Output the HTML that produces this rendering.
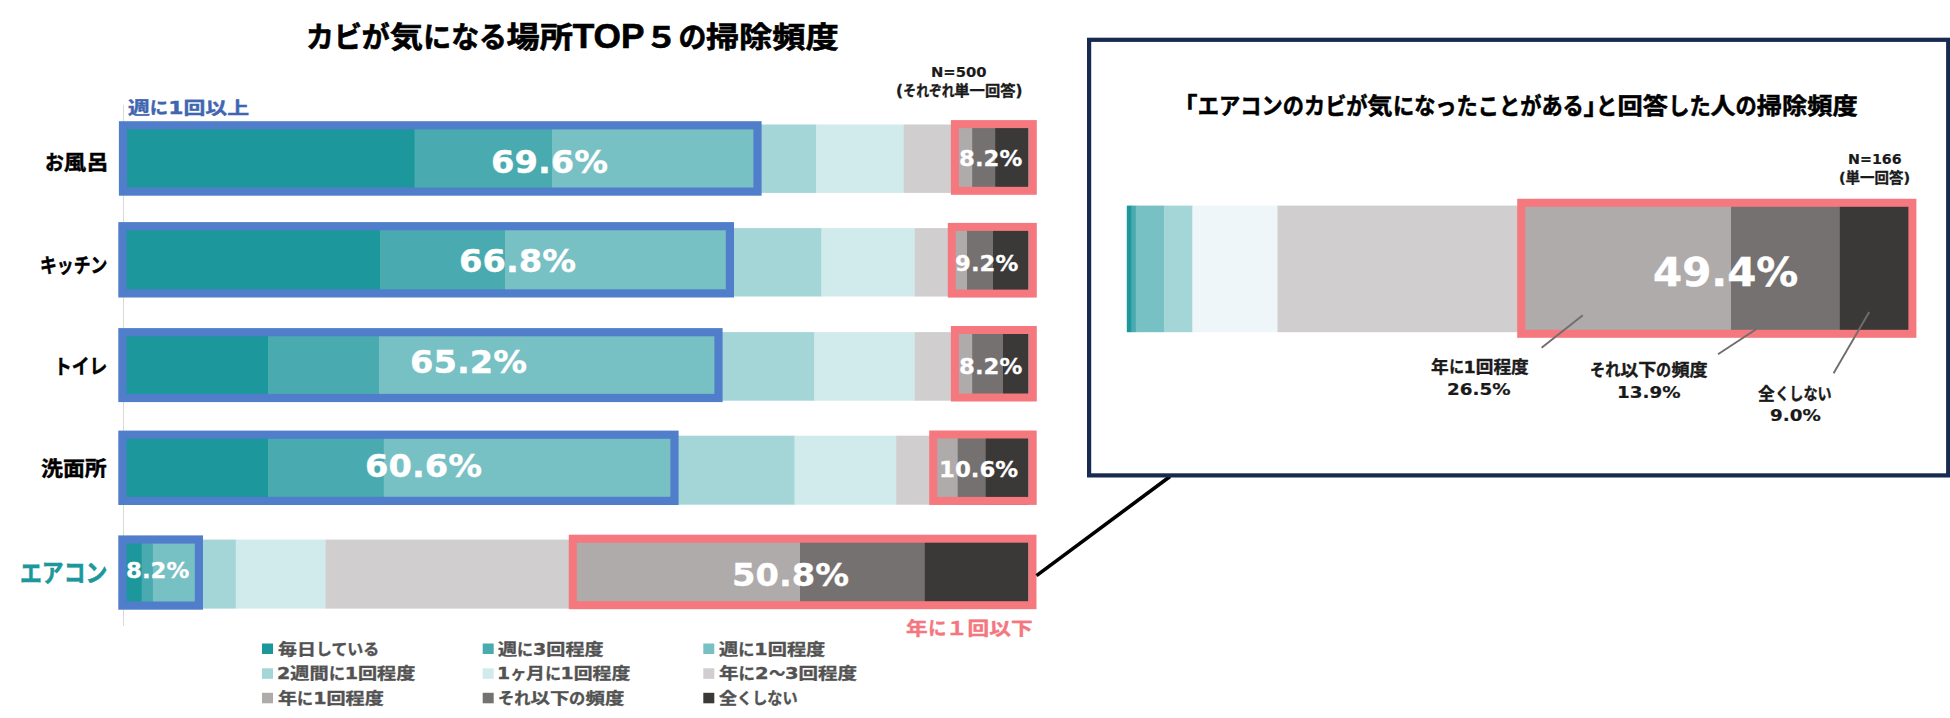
<!DOCTYPE html>
<html lang="ja"><head><meta charset="utf-8"><title>カビが気になる場所TOP５の掃除頻度</title>
<style>
html,body{margin:0;padding:0;background:#fff;}
body{width:1950px;height:718px;position:relative;overflow:hidden;font-family:"DejaVu Sans","Liberation Sans","Noto Sans CJK JP",sans-serif;font-weight:700;}
.r{position:absolute;box-sizing:content-box;}
.t{position:absolute;white-space:nowrap;line-height:1.3;font-weight:700;transform-origin:0 0;-webkit-text-stroke:0.022em currentColor;}
.d{-webkit-text-stroke:0.012em currentColor;}
.k{display:inline-block;transform-origin:0 50%;}
</style></head><body>
<svg class="r" style="left:0;top:0" width="1950" height="718" viewBox="0 0 1950 718"><rect x="123.00" y="105.00" width="1.00" height="521.00" fill="#d9d9d9"/><rect x="123.60" y="124.50" width="291.60" height="68.40" fill="#1c979c"/><rect x="414.50" y="124.50" width="138.20" height="68.40" fill="#49abb0"/><rect x="552.00" y="124.50" width="206.10" height="68.40" fill="#77c0c4"/><rect x="757.40" y="124.50" width="59.30" height="68.40" fill="#a4d5d7"/><rect x="816.00" y="124.50" width="88.50" height="68.40" fill="#d1eaeb"/><rect x="903.80" y="124.50" width="51.90" height="68.40" fill="#d0cece"/><rect x="955.00" y="124.50" width="17.90" height="68.40" fill="#afabab"/><rect x="972.20" y="124.50" width="23.70" height="68.40" fill="#767171"/><rect x="995.20" y="124.50" width="33.40" height="68.40" fill="#3b3838"/><rect x="123.60" y="228.10" width="257.10" height="68.40" fill="#1c979c"/><rect x="380.00" y="228.10" width="125.70" height="68.40" fill="#49abb0"/><rect x="505.00" y="228.10" width="225.70" height="68.40" fill="#77c0c4"/><rect x="730.00" y="228.10" width="91.90" height="68.40" fill="#a4d5d7"/><rect x="821.20" y="228.10" width="94.40" height="68.40" fill="#d1eaeb"/><rect x="914.90" y="228.10" width="37.80" height="68.40" fill="#d0cece"/><rect x="952.00" y="228.10" width="15.70" height="68.40" fill="#afabab"/><rect x="967.00" y="228.10" width="26.70" height="68.40" fill="#767171"/><rect x="993.00" y="228.10" width="35.60" height="68.40" fill="#3b3838"/><rect x="123.60" y="332.10" width="145.10" height="68.60" fill="#1c979c"/><rect x="268.00" y="332.10" width="111.70" height="68.60" fill="#49abb0"/><rect x="379.00" y="332.10" width="340.30" height="68.60" fill="#77c0c4"/><rect x="718.60" y="332.10" width="96.20" height="68.60" fill="#a4d5d7"/><rect x="814.10" y="332.10" width="101.50" height="68.60" fill="#d1eaeb"/><rect x="914.90" y="332.10" width="40.80" height="68.60" fill="#d0cece"/><rect x="955.00" y="332.10" width="17.90" height="68.60" fill="#afabab"/><rect x="972.20" y="332.10" width="31.50" height="68.60" fill="#767171"/><rect x="1003.00" y="332.10" width="25.60" height="68.60" fill="#3b3838"/><rect x="123.60" y="435.70" width="145.10" height="69.00" fill="#1c979c"/><rect x="268.00" y="435.70" width="116.50" height="69.00" fill="#49abb0"/><rect x="383.80" y="435.70" width="291.60" height="69.00" fill="#77c0c4"/><rect x="674.70" y="435.70" width="120.40" height="69.00" fill="#a4d5d7"/><rect x="794.40" y="435.70" width="102.60" height="69.00" fill="#d1eaeb"/><rect x="896.30" y="435.70" width="37.80" height="69.00" fill="#d0cece"/><rect x="933.40" y="435.70" width="25.00" height="69.00" fill="#afabab"/><rect x="957.70" y="435.70" width="28.70" height="69.00" fill="#767171"/><rect x="985.70" y="435.70" width="42.90" height="69.00" fill="#3b3838"/><rect x="123.60" y="539.60" width="18.80" height="69.00" fill="#1c979c"/><rect x="141.70" y="539.60" width="11.90" height="69.00" fill="#49abb0"/><rect x="152.90" y="539.60" width="46.70" height="69.00" fill="#77c0c4"/><rect x="198.90" y="539.60" width="37.60" height="69.00" fill="#a4d5d7"/><rect x="235.80" y="539.60" width="90.60" height="69.00" fill="#d1eaeb"/><rect x="325.70" y="539.60" width="248.00" height="69.00" fill="#d0cece"/><rect x="573.00" y="539.60" width="227.70" height="69.00" fill="#afabab"/><rect x="800.00" y="539.60" width="125.50" height="69.00" fill="#767171"/><rect x="924.80" y="539.60" width="103.80" height="69.00" fill="#3b3838"/><rect x="123.00" y="125.30" width="634.50" height="66.30" fill="none" stroke="#517ecb" stroke-width="8.2"/><rect x="122.40" y="226.20" width="607.50" height="67.20" fill="none" stroke="#517ecb" stroke-width="8.2"/><rect x="122.40" y="332.20" width="596.10" height="65.80" fill="none" stroke="#517ecb" stroke-width="8.2"/><rect x="122.40" y="434.70" width="552.10" height="66.20" fill="none" stroke="#517ecb" stroke-width="8.2"/><rect x="122.40" y="539.50" width="76.50" height="66.10" fill="none" stroke="#517ecb" stroke-width="8.2"/><rect x="954.90" y="124.10" width="77.90" height="66.70" fill="none" stroke="#f6787f" stroke-width="8"/><rect x="951.80" y="226.90" width="81.00" height="66.70" fill="none" stroke="#f6787f" stroke-width="8"/><rect x="954.90" y="330.00" width="77.90" height="67.50" fill="none" stroke="#f6787f" stroke-width="8"/><rect x="933.20" y="434.50" width="99.50" height="66.40" fill="none" stroke="#f6787f" stroke-width="8"/><rect x="572.80" y="538.70" width="459.70" height="66.50" fill="none" stroke="#f6787f" stroke-width="8"/></svg>
<div class="t" id="title" style="left:305.92px;top:13.54px;font-size:32px;color:#000;transform:scale(1.0376,0.9062);"><span class="k" style="transform:scaleX(0.84);margin-right:-0.480em">カビが</span>気<span class="k" style="transform:scaleX(0.84);margin-right:-0.480em">になる</span>場所<span class="k" style="font-family:'Liberation Sans',sans-serif;font-size:1.18em;transform:scaleX(0.9);margin-right:-0.206em">TOP</span><span style="font-feature-settings:normal;margin:0 0.0em 0 0.0em">５</span><span class="k" style="transform:scaleX(0.84);margin-right:-0.160em">の</span>掃除頻度</div>
<div class="t" id="wk" style="left:128.40px;top:96.25px;font-size:20px;color:#3f66b0;transform:scale(1.0936,0.8750);">週<span class="k" style="transform:scaleX(0.84);margin-right:-0.160em">に</span>1回以上</div>
<div class="t d" id="n500" style="left:931.47px;top:62.78px;font-size:14px;color:#1a1a1a;transform:scale(1.0560,1.0300);">N=500</div>
<div class="t" id="n500b" style="left:895.95px;top:82.14px;font-size:14.5px;color:#1a1a1a;transform:scale(1.0534,1.0310);">(<span class="k" style="transform:scaleX(0.84);margin-right:-0.640em">それぞれ</span>単一回答)</div>
<div class="t" id="l1" style="left:44.53px;top:150.91px;font-size:21px;color:#000;transform:scale(1.0667,0.9725);"><span class="k" style="transform:scaleX(0.84);margin-right:-0.160em">お</span>風呂</div>
<div class="t" id="l2" style="left:40.44px;top:253.61px;font-size:21px;color:#000;transform:scale(0.9551,0.9725);"><span class="k" style="transform:scaleX(0.84);margin-right:-0.640em">キッチン</span></div>
<div class="t" id="l3" style="left:54.36px;top:354.84px;font-size:21px;color:#000;transform:scale(1.0085,0.9725);"><span class="k" style="transform:scaleX(0.84);margin-right:-0.480em">トイレ</span></div>
<div class="t" id="l4" style="left:40.96px;top:456.94px;font-size:21px;color:#000;transform:scale(1.0419,0.9725);">洗面所</div>
<div class="t" id="l5" style="left:20.32px;top:558.49px;font-size:24px;color:#1c979c;transform:scale(1.0848,1.0286);"><span class="k" style="transform:scaleX(0.84);margin-right:-0.640em">エアコン</span></div>
<div class="t d" id="p1" style="left:491.28px;top:143.48px;font-size:33px;color:#fff;transform:scale(1.0219,0.9497);">69.6%</div>
<div class="t d" id="p2" style="left:458.53px;top:241.93px;font-size:33px;color:#fff;transform:scale(1.0219,0.9497);">66.8%</div>
<div class="t d" id="p3" style="left:410.43px;top:343.38px;font-size:33px;color:#fff;transform:scale(1.0219,0.9497);">65.2%</div>
<div class="t d" id="p4" style="left:364.73px;top:446.68px;font-size:33px;color:#fff;transform:scale(1.0219,0.9497);">60.6%</div>
<div class="t d" id="p5" style="left:731.68px;top:555.68px;font-size:33px;color:#fff;transform:scale(1.0219,0.9497);">50.8%</div>
<div class="t d" id="q1" style="left:959.14px;top:144.67px;font-size:22.5px;color:#fff;transform:scale(1.0147,0.9576);">8.2%</div>
<div class="t d" id="q2" style="left:955.39px;top:249.52px;font-size:22.5px;color:#fff;transform:scale(1.0147,0.9576);">9.2%</div>
<div class="t d" id="q3" style="left:958.69px;top:352.57px;font-size:22.5px;color:#fff;transform:scale(1.0147,0.9576);">8.2%</div>
<div class="t d" id="q4" style="left:938.61px;top:455.62px;font-size:22.5px;color:#fff;transform:scale(1.0147,0.9576);">10.6%</div>
<div class="t d" id="q5" style="left:125.79px;top:557.37px;font-size:22.5px;color:#fff;transform:scale(1.0147,0.9576);">8.2%</div>
<div class="t" id="yr" style="left:906.00px;top:618.24px;font-size:21.5px;color:#f4777f;transform:scale(1.0080,0.8318);">年<span class="k" style="transform:scaleX(0.84);margin-right:-0.160em">に</span><span style="font-feature-settings:normal;margin:0 0em 0 0em">１</span>回以下</div>
<div class="t" id="lg0" style="left:277.80px;top:638.57px;font-size:18px;color:#525252;transform:scale(1.0537,0.8667);">毎日<span class="k" style="transform:scaleX(0.84);margin-right:-0.640em">している</span></div>
<div class="t" id="lg1" style="left:498.30px;top:638.57px;font-size:18px;color:#525252;transform:scale(1.0596,0.8667);">週<span class="k" style="transform:scaleX(0.84);margin-right:-0.160em">に</span>3回程度</div>
<div class="t" id="lg2" style="left:718.90px;top:638.57px;font-size:18px;color:#525252;transform:scale(1.0667,0.8667);">週<span class="k" style="transform:scaleX(0.84);margin-right:-0.160em">に</span>1回程度</div>
<div class="t" id="lg3" style="left:277.24px;top:663.07px;font-size:18px;color:#525252;transform:scale(1.0628,0.8667);">2週間<span class="k" style="transform:scaleX(0.84);margin-right:-0.160em">に</span>1回程度</div>
<div class="t" id="lg4" style="left:497.21px;top:663.07px;font-size:18px;color:#525252;transform:scale(1.0464,0.8667);">1<span class="k" style="transform:scaleX(0.84);margin-right:-0.160em">ヶ</span>月<span class="k" style="transform:scaleX(0.84);margin-right:-0.160em">に</span>1回程度</div>
<div class="t" id="lg5" style="left:719.00px;top:663.07px;font-size:18px;color:#525252;transform:scale(1.0843,0.8667);">年<span class="k" style="transform:scaleX(0.84);margin-right:-0.160em">に</span>2<span class="k" style="transform:scaleX(0.84);margin-right:-0.160em">～</span>3回程度</div>
<div class="t" id="lg6" style="left:278.30px;top:687.57px;font-size:18px;color:#525252;transform:scale(1.0616,0.8667);">年<span class="k" style="transform:scaleX(0.84);margin-right:-0.160em">に</span>1回程度</div>
<div class="t" id="lg7" style="left:498.12px;top:687.57px;font-size:18px;color:#525252;transform:scale(1.0759,0.8667);"><span class="k" style="transform:scaleX(0.84);margin-right:-0.320em">それ</span>以下<span class="k" style="transform:scaleX(0.84);margin-right:-0.160em">の</span>頻度</div>
<div class="t" id="lg8" style="left:719.40px;top:687.57px;font-size:18px;color:#525252;transform:scale(1.0013,0.8667);">全<span class="k" style="transform:scaleX(0.84);margin-right:-0.640em">くしない</span></div>
<svg class="r" style="left:0;top:0" width="1950" height="718" viewBox="0 0 1950 718"><rect x="262.00" y="643.50" width="11.00" height="10.50" fill="#1c979c"/><rect x="482.70" y="643.50" width="11.00" height="10.50" fill="#49abb0"/><rect x="703.30" y="643.50" width="11.00" height="10.50" fill="#77c0c4"/><rect x="262.00" y="668.30" width="11.00" height="10.50" fill="#a4d5d7"/><rect x="482.70" y="668.30" width="11.00" height="10.50" fill="#d1eaeb"/><rect x="703.30" y="668.30" width="11.00" height="10.50" fill="#d0cece"/><rect x="262.00" y="692.80" width="11.00" height="10.50" fill="#afabab"/><rect x="482.70" y="692.80" width="11.00" height="10.50" fill="#767171"/><rect x="703.30" y="692.80" width="11.00" height="10.50" fill="#3b3838"/></svg>
<svg class="r" style="left:0;top:0" width="1950" height="718"><line x1="1036.5" y1="575.6" x2="1170" y2="476.5" stroke="#000" stroke-width="3.6"/></svg>
<svg class="r" style="left:0;top:0" width="1950" height="718" viewBox="0 0 1950 718"><rect x="1089.10" y="39.80" width="859.10" height="435.60" fill="none" stroke="#172a50" stroke-width="4.2"/><rect x="1126.80" y="205.60" width="5.20" height="126.60" fill="#1c979c"/><rect x="1131.30" y="205.60" width="5.20" height="126.60" fill="#49abb0"/><rect x="1135.80" y="205.60" width="28.80" height="126.60" fill="#77c0c4"/><rect x="1163.90" y="205.60" width="29.10" height="126.60" fill="#a4d5d7"/><rect x="1192.30" y="205.60" width="85.90" height="126.60" fill="#eff6f9"/><rect x="1277.50" y="205.60" width="244.20" height="126.60" fill="#d0cece"/><rect x="1521.00" y="205.60" width="210.70" height="126.60" fill="#afabab"/><rect x="1731.00" y="205.60" width="109.50" height="126.60" fill="#767171"/><rect x="1839.80" y="205.60" width="69.20" height="126.60" fill="#3b3838"/><rect x="1521.20" y="202.80" width="391.20" height="131.00" fill="none" stroke="#f6787f" stroke-width="8"/></svg>
<svg class="r" style="left:0;top:0" width="1950" height="718"><line x1="1582.8" y1="315.3" x2="1541.6" y2="347.8" stroke="#726d6d" stroke-width="1.9"/><line x1="1756.5" y1="329" x2="1718" y2="354.3" stroke="#726d6d" stroke-width="1.9"/><line x1="1869.2" y1="312" x2="1833.6" y2="373.2" stroke="#726d6d" stroke-width="1.9"/></svg>
<div class="t" id="pt" style="left:1185.23px;top:91.26px;font-size:25.5px;color:#000;transform:scale(0.9902,0.9120);"><span style="font-feature-settings:'halt'">「</span><span class="k" style="transform:scaleX(0.84);margin-right:-1.280em">エアコンのカビが</span>気<span class="k" style="transform:scaleX(0.84);margin-right:-1.440em">になったことがある</span><span style="font-feature-settings:'halt'">」</span><span class="k" style="transform:scaleX(0.84);margin-right:-0.160em">と</span>回答<span class="k" style="transform:scaleX(0.84);margin-right:-0.320em">した</span>人<span class="k" style="transform:scaleX(0.84);margin-right:-0.160em">の</span>掃除頻度</div>
<div class="t d" id="n166" style="left:1847.72px;top:150.61px;font-size:13.5px;color:#1a1a1a;transform:scale(1.0560,1.0300);">N=166</div>
<div class="t" id="n166b" style="left:1839.47px;top:168.57px;font-size:14px;color:#1a1a1a;transform:scale(1.0328,1.0310);">(単一回答)</div>
<div class="t d" id="p6" style="left:1652.90px;top:247.66px;font-size:41px;color:#fff;transform:scale(1.0219,0.9497);">49.4%</div>
<div class="t" id="a1" style="left:1431.30px;top:356.59px;font-size:17.5px;color:#1a1a1a;transform:scale(1.0082,0.9490);">年<span class="k" style="transform:scaleX(0.84);margin-right:-0.160em">に</span>1回程度</div>
<div class="t d" id="a1v" style="left:1447.30px;top:379.09px;font-size:17px;color:#1a1a1a;transform:scale(1.0783,0.9436);">26.5%</div>
<div class="t" id="a2" style="left:1589.67px;top:360.04px;font-size:17.5px;color:#1a1a1a;transform:scale(1.0310,0.9490);"><span class="k" style="transform:scaleX(0.84);margin-right:-0.320em">それ</span>以下<span class="k" style="transform:scaleX(0.84);margin-right:-0.160em">の</span>頻度</div>
<div class="t d" id="a2v" style="left:1616.71px;top:381.99px;font-size:17px;color:#1a1a1a;transform:scale(1.0783,0.9436);">13.9%</div>
<div class="t" id="a3" style="left:1758.20px;top:384.09px;font-size:17.5px;color:#1a1a1a;transform:scale(0.9579,0.9490);">全<span class="k" style="transform:scaleX(0.84);margin-right:-0.640em">くしない</span></div>
<div class="t d" id="a3v" style="left:1769.57px;top:405.39px;font-size:17px;color:#1a1a1a;transform:scale(1.0783,0.9436);">9.0%</div>
</body></html>
